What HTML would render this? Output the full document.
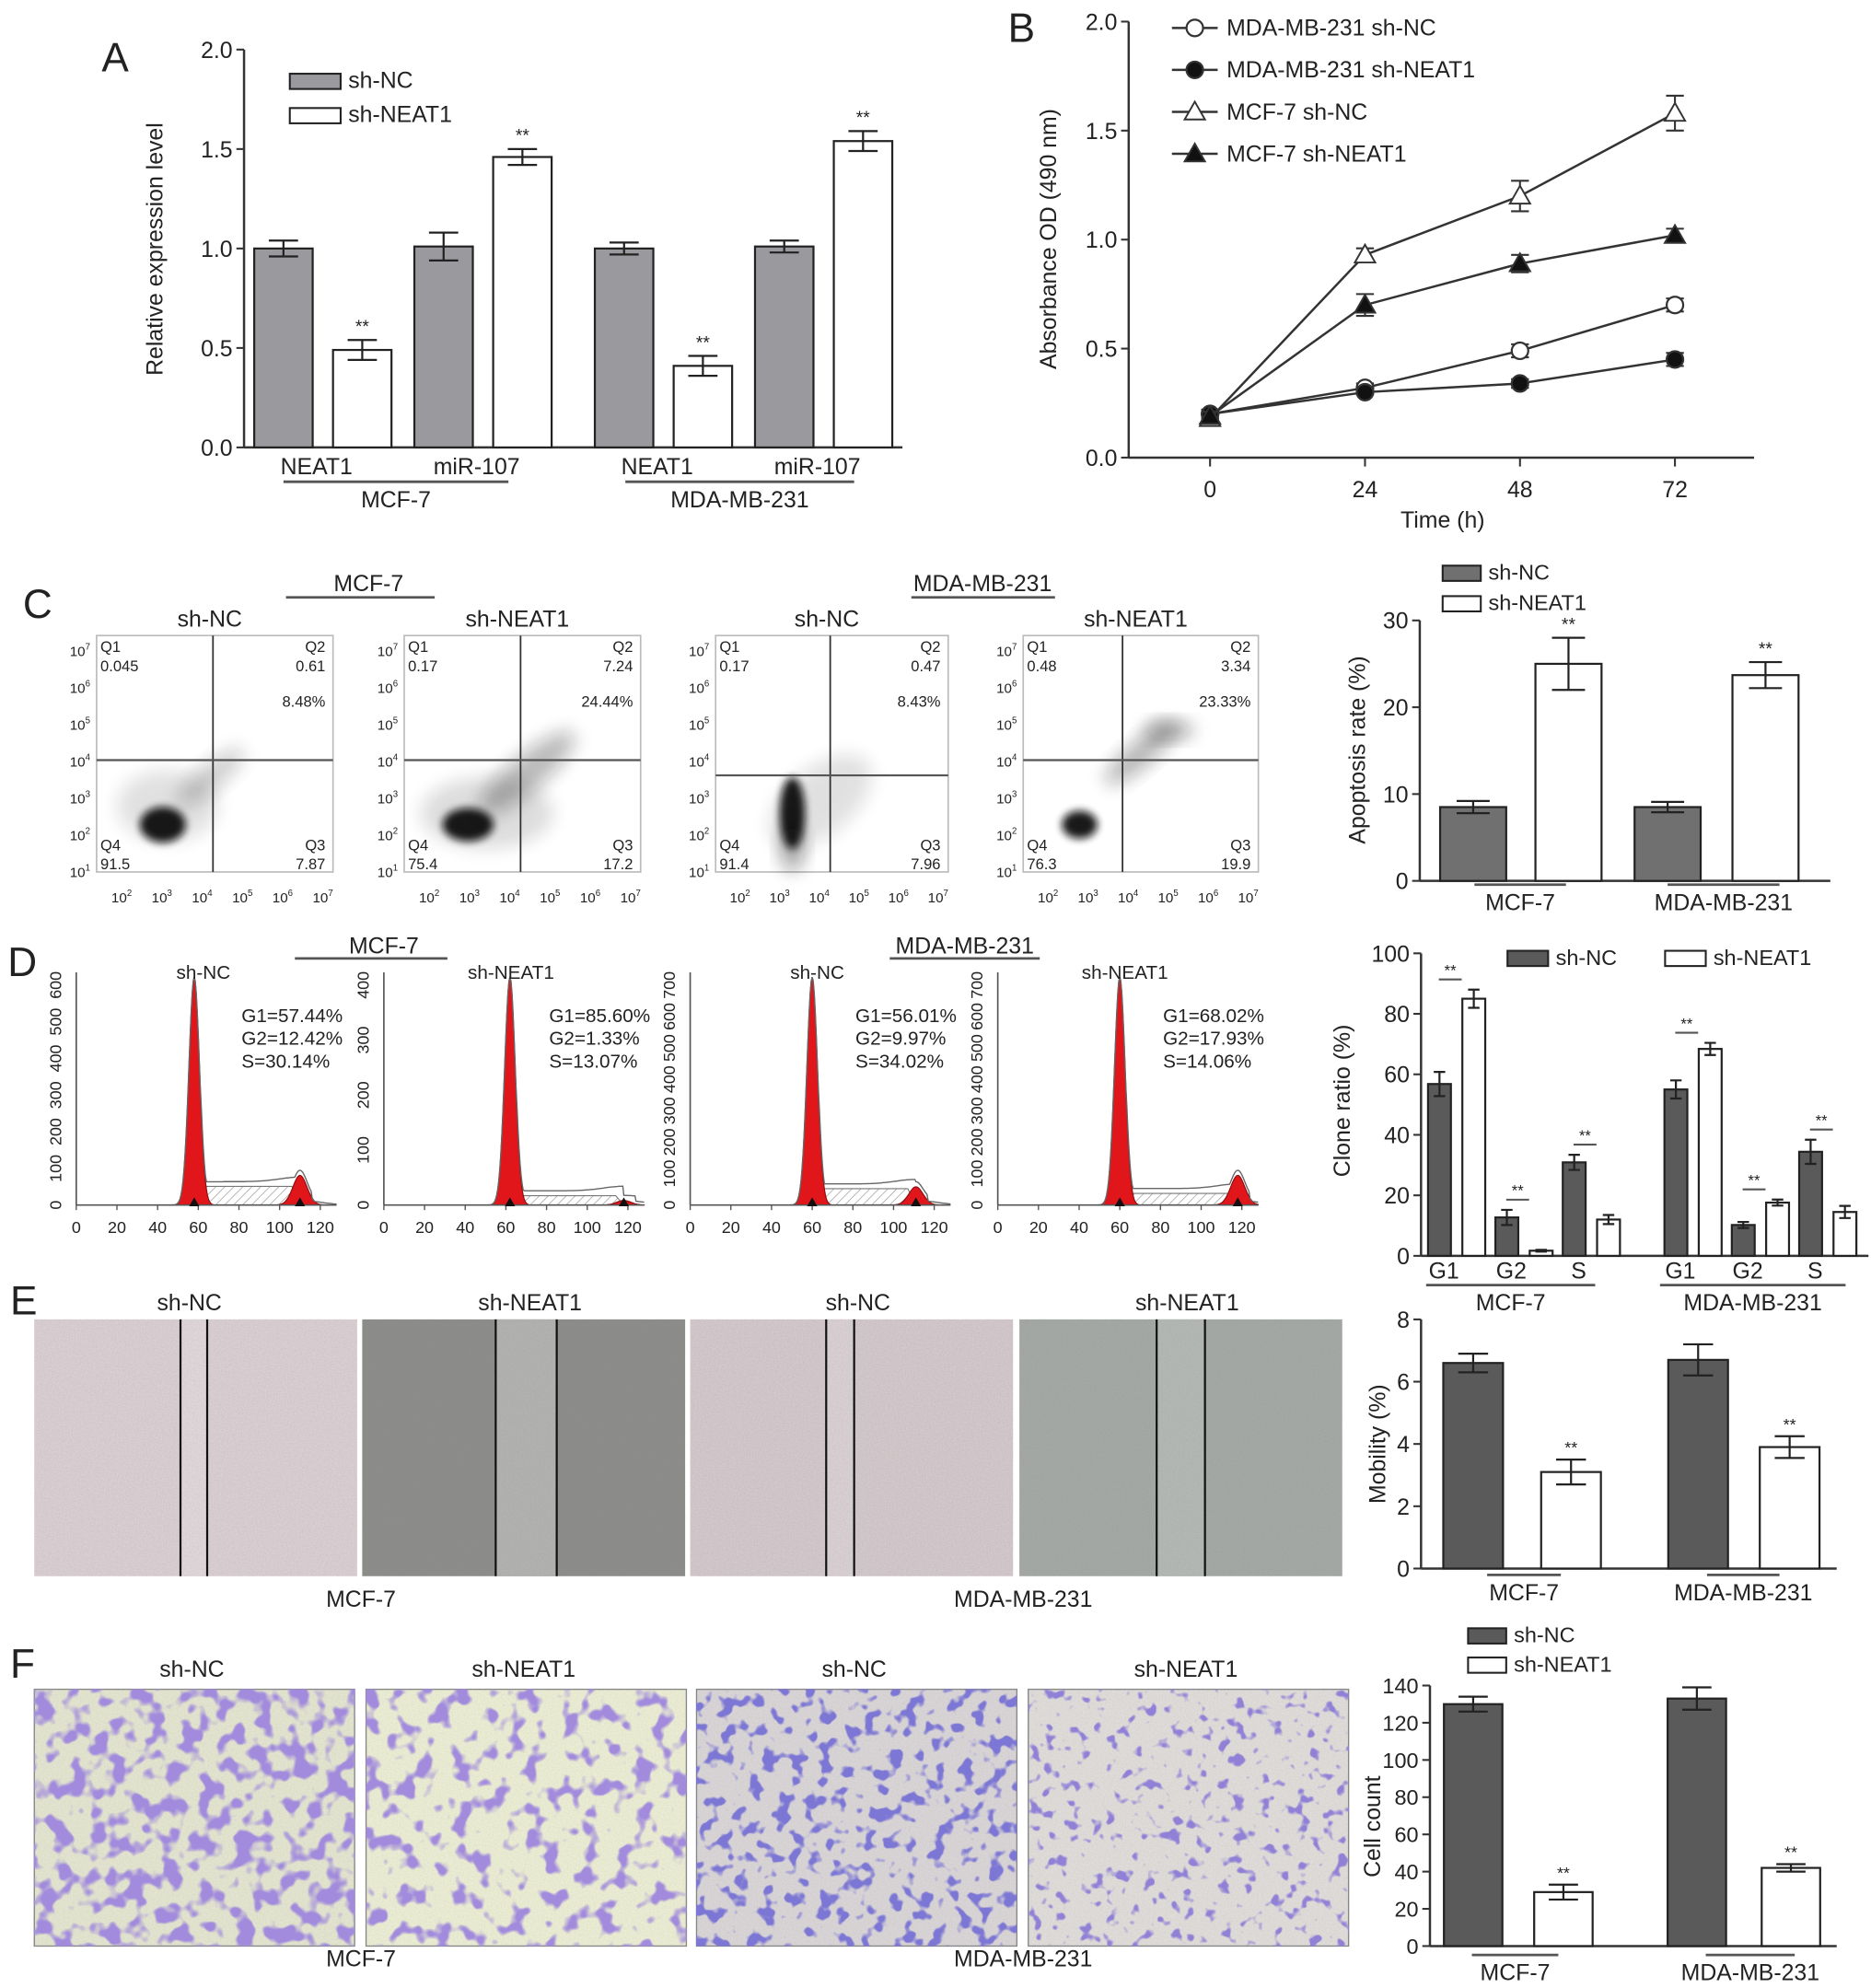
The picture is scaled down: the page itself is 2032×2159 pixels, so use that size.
<!DOCTYPE html>
<html><head><meta charset="utf-8">
<style>
html,body{margin:0;padding:0;background:#fff;}
svg{display:block;}
text{font-family:"Liberation Sans",Arial,sans-serif;fill:#222;}
</style></head>
<body>
<svg id="fig" xmlns="http://www.w3.org/2000/svg" width="2032" height="2159" viewBox="0 0 1472 1564" preserveAspectRatio="none">
<defs>
<filter id="blur3" x="-50%" y="-50%" width="200%" height="200%"><feGaussianBlur stdDeviation="3"/></filter>
<filter id="blur6" x="-50%" y="-50%" width="200%" height="200%"><feGaussianBlur stdDeviation="7"/></filter>
<filter id="noise" x="0" y="0" width="100%" height="100%"><feTurbulence type="fractalNoise" baseFrequency="0.9" numOctaves="1" seed="2"/><feColorMatrix type="matrix" values="0 0 0 0 0.2  0 0 0 0 0.2  0 0 0 0 0.2  0 0 0 0.5 -0.1"/></filter>
<filter id="blobs1" x="0" y="0" width="100%" height="100%"><feTurbulence type="fractalNoise" baseFrequency="0.07" numOctaves="2" seed="4"/><feColorMatrix type="matrix" values="0 0 0 0 0.36  0 0 0 0 0.26  0 0 0 0 0.72  8 0 0 0 -3.9"/></filter>
<filter id="blobs2" x="0" y="0" width="100%" height="100%"><feTurbulence type="fractalNoise" baseFrequency="0.07" numOctaves="2" seed="9"/><feColorMatrix type="matrix" values="0 0 0 0 0.36  0 0 0 0 0.26  0 0 0 0 0.72  8 0 0 0 -4.3"/></filter>
<filter id="blobs3" x="0" y="0" width="100%" height="100%"><feTurbulence type="fractalNoise" baseFrequency="0.09" numOctaves="2" seed="12"/><feColorMatrix type="matrix" values="0 0 0 0 0.2  0 0 0 0 0.18  0 0 0 0 0.66  9 0 0 0 -4.9"/></filter>
<filter id="blobs4" x="0" y="0" width="100%" height="100%"><feTurbulence type="fractalNoise" baseFrequency="0.1" numOctaves="2" seed="21"/><feColorMatrix type="matrix" values="0 0 0 0 0.28  0 0 0 0 0.22  0 0 0 0 0.68  9 0 0 0 -5.3"/></filter>
<pattern id="hatch" width="5" height="5" patternUnits="userSpaceOnUse" patternTransform="rotate(45)"><rect width="5" height="5" fill="#fff"/><line x1="0" y1="0" x2="0" y2="5" stroke="#999" stroke-width="1"/></pattern>
</defs>

<text x="80" y="56" font-size="32">A</text>
<text x="793" y="33" font-size="32">B</text>
<text x="18" y="486" font-size="32">C</text>
<text x="6" y="768" font-size="32">D</text>
<text x="8" y="1034" font-size="32">E</text>
<text x="8" y="1320" font-size="32">F</text>

<g id="gA"></g>
<g id="gB"></g>
<g id="gC"></g>
<g id="gCb"></g>
<g id="gD"></g>
<g id="gDb"></g>
<g id="gE"></g>
<g id="gEb"></g>
<g id="gF"></g>
<g id="gFb"></g>
</svg>

<script>
// ---------- DATA ----------
const aCats = ['NEAT1','miR-107','NEAT1','miR-107'];
const aNC = [1.00, 1.01, 1.00, 1.01];
const aNCerr = [0.04, 0.07, 0.03, 0.03];
const aKD = [0.49, 1.46, 0.41, 1.54];
const aKDerr = [0.05, 0.04, 0.05, 0.05];
const aTicks = [0.0, 0.5, 1.0, 1.5, 2.0];

const bTimes = [0, 24, 48, 72];
const bTicks = [0.0, 0.5, 1.0, 1.5, 2.0];
const bMdaNC = [0.20, 0.32, 0.49, 0.70];
const bMdaNCerr = [0.02, 0.02, 0.03, 0.03];
const bMdaKD = [0.20, 0.30, 0.34, 0.45];
const bMdaKDerr = [0.02, 0.01, 0.02, 0.03];
const bMcfNC = [0.18, 0.93, 1.20, 1.58];
const bMcfNCerr = [0.03, 0.03, 0.07, 0.08];
const bMcfKD = [0.19, 0.70, 0.89, 1.02];
const bMcfKDerr = [0.02, 0.05, 0.04, 0.03];

const cNC = [8.5, 8.5];
const cNCerr = [0.7, 0.6];
const cKD = [25.0, 23.7];
const cKDerr = [3.0, 1.5];
const cTicks = [0, 10, 20, 30];

const dPhases = ['G1','G2','S','G1','G2','S'];
const dNC = [56.8, 12.7, 30.9, 55.0, 10.2, 34.4];
const dNCerr = [4.0, 2.5, 2.5, 3.0, 1.0, 4.0];
const dKD = [85.0, 1.7, 12.0, 68.4, 17.6, 14.5];
const dKDerr = [3.0, 0.3, 1.5, 2.0, 1.0, 2.0];
const dTicks = [0, 20, 40, 60, 80, 100];

const eNC = [6.6, 6.7];
const eNCerr = [0.3, 0.5];
const eKD = [3.1, 3.9];
const eKDerr = [0.4, 0.35];
const eTicks = [0, 2, 4, 6, 8];

const fNC = [130, 133];
const fNCerr = [4, 6];
const fKD = [29, 42];
const fKDerr = [4, 2];
const fTicks = [0, 20, 40, 60, 80, 100, 120, 140];

const flowTitles = ['sh-NC','sh-NEAT1','sh-NC','sh-NEAT1'];
const flowQ1 = ['0.045','0.17','0.17','0.48'];
const flowQ2 = ['0.61','7.24','0.47','3.34'];
const flowQ3 = ['7.87','17.2','7.96','19.9'];
const flowQ4 = ['91.5','75.4','91.4','76.3'];
const flowPct = ['8.48%','24.44%','8.43%','23.33%'];

const histTitles = ['sh-NC','sh-NEAT1','sh-NC','sh-NEAT1'];
const histG1 = ['G1=57.44%','G1=85.60%','G1=56.01%','G1=68.02%'];
const histG2 = ['G2=12.42%','G2=1.33%','G2=9.97%','G2=17.93%'];
const histS = ['S=30.14%','S=13.07%','S=34.02%','S=14.06%'];
const histYmax = [600, 400, 700, 700];
const histG1pos = [58, 62, 60, 60];
const histG2pos = [110, 118, 111, 118];
const histG2h = [0.13, 0.02, 0.08, 0.13];
const histSh = [0.08, 0.04, 0.07, 0.05];

// ---------- HELPERS ----------
const NS = 'http://www.w3.org/2000/svg';
function mk(tag, attrs, parent) {
  const e = document.createElementNS(NS, tag);
  for (const k in attrs) e.setAttribute(k, attrs[k]);
  parent.appendChild(e);
  return e;
}
function txt(parent, x, y, s, size, anchor, extra) {
  const t = mk('text', Object.assign({x: x, y: y, 'font-size': size, 'text-anchor': anchor || 'middle'}, extra || {}), parent);
  t.textContent = s;
  return t;
}
function line(parent, x1, y1, x2, y2, w, col) {
  return mk('line', {x1: x1, y1: y1, x2: x2, y2: y2, stroke: col || '#333', 'stroke-width': w || 1.5}, parent);
}
function yAxis(parent, x, yfn, ticks, fmt, size, top) {
  const ax = line(parent, x, yfn(ticks[0]), x, top !== undefined ? top : yfn(ticks[ticks.length - 1]), 1.8);
  
  
  ticks.forEach(function (t) {
    const tk = line(parent, x - 6, yfn(t), x, yfn(t), 1.5);
    
    
    const lb = txt(parent, x - 9, yfn(t) + size * 0.36, fmt(t), size, 'end');
    
    
  });
}
function bars(parent, xs, w, vals, errs, yfn, fill, name) {
  vals.forEach(function (v, i) {
    const r = mk('rect', {x: xs[i] - w / 2, y: yfn(v), width: w, height: yfn(0) - yfn(v), fill: fill, stroke: '#222', 'stroke-width': 1.6}, parent);
    
    
    const e = errs[i], cap = w * 0.25;
    const eb = mk('path', {d: 'M' + xs[i] + ',' + yfn(v + e) + 'V' + yfn(v - e) + 'M' + (xs[i] - cap) + ',' + yfn(v + e) + 'H' + (xs[i] + cap) + 'M' + (xs[i] - cap) + ',' + yfn(v - e) + 'H' + (xs[i] + cap), stroke: '#222', 'stroke-width': 1.6, fill: 'none'}, parent);
    
    
  });
}
function stars(parent, x, y, size) {
  const s = txt(parent, x, y, '**', size || 14);
  
  
}
function legendBox(parent, x, y, w, h, fill, label, size) {
  const r = mk('rect', {x: x, y: y, width: w, height: h, fill: fill, stroke: '#222', 'stroke-width': 1.5}, parent);
  
  
  const t = txt(parent, x + w + 6, y + h - 1, label, size, 'start');
  
  
}
function groupLabel(parent, x1, x2, yl, label, size) {
  const l = line(parent, x1, yl, x2, yl, 2, '#555');
  
  
  const t = txt(parent, (x1 + x2) / 2, yl + size + 2, label, size);
  
  
}
function rotLabel(parent, x, y, s, size) {
  const t = txt(parent, 0, 0, s, size, 'middle', {transform: 'translate(' + x + ',' + y + ') rotate(-90)'});
  
  
}

// ---------- PANEL A ----------
(function () {
  const g = document.getElementById('gA');
  const y = function (v) { return 352 - v * 156.5; };
  yAxis(g, 192, y, aTicks, function (t) { return t.toFixed(1); }, 18);
  const xa = line(g, 192, 352, 710, 352, 1.8);
  
  
  const centers = aCats.map(function (c, i) { return 254 + i * 126 + (i >= 2 ? 16 : 0); });
  const xNC = centers.map(function (c) { return c - 31; });
  const xKD = centers.map(function (c) { return c + 31; });
  bars(g, xNC, 46, aNC, aNCerr, y, '#9a9a9e', 'a-sh-nc');
  bars(g, xKD, 46, aKD, aKDerr, y, '#fff', 'a-sh-neat1');
  aKD.forEach(function (v, i) { stars(g, xKD[i], y(v + aKDerr[i]) - 6, 14); });
  aCats.forEach(function (c, i) {
    const t = txt(g, centers[i] - 5, 373, c, 18);
    
    
  });
  groupLabel(g, 223, 400, 379, 'MCF-7', 18);
  groupLabel(g, 492, 672, 379, 'MDA-MB-231', 18);
  legendBox(g, 228, 58, 40, 12, '#9a9a9e', 'sh-NC', 18);
  legendBox(g, 228, 85, 40, 12, '#fff', 'sh-NEAT1', 18);
  rotLabel(g, 128, 196, 'Relative expression level', 18);
})();

// ---------- PANEL B ----------
(function () {
  const g = document.getElementById('gB');
  const y = function (v) { return 360 - v * 171.5; };
  const x = function (t) { return 952 + t * 5.08; };
  yAxis(g, 888, y, bTicks, function (t) { return t.toFixed(1); }, 18);
  const xa = line(g, 888, 360, 1380, 360, 1.8);
  
  
  bTimes.forEach(function (t) {
    const tk = line(g, x(t), 360, x(t), 367, 1.5);
    
    
    const lb = txt(g, x(t), 391, String(t), 18);
    
    
  });
  const xt = txt(g, 1135, 415, 'Time (h)', 18);
  
  
  rotLabel(g, 831, 188, 'Absorbance OD (490 nm)', 18);

  function marker(parent, cx, cy, kind) {
    let m;
    if (kind === 'oc' || kind === 'fc') {
      m = mk('circle', {cx: cx, cy: cy, r: 6.5, fill: kind === 'fc' ? '#111' : '#fff', stroke: '#333', 'stroke-width': 1.6}, parent);
    } else {
      m = mk('path', {d: 'M' + cx + ',' + (cy - 8) + 'L' + (cx + 8) + ',' + (cy + 6) + 'L' + (cx - 8) + ',' + (cy + 6) + 'Z', fill: kind === 'ft' ? '#111' : '#fff', stroke: '#333', 'stroke-width': 1.4}, parent);
    }
    return m;
  }
  const series = [
    {v: bMdaNC, e: bMdaNCerr, k: 'oc', n: 'mda-sh-nc', l: 'MDA-MB-231 sh-NC'},
    {v: bMdaKD, e: bMdaKDerr, k: 'fc', n: 'mda-sh-neat1', l: 'MDA-MB-231 sh-NEAT1'},
    {v: bMcfNC, e: bMcfNCerr, k: 'ot', n: 'mcf-sh-nc', l: 'MCF-7 sh-NC'},
    {v: bMcfKD, e: bMcfKDerr, k: 'ft', n: 'mcf-sh-neat1', l: 'MCF-7 sh-NEAT1'}
  ];
  series.forEach(function (s, si) {
    const p = mk('polyline', {points: s.v.map(function (v, i) { return x(bTimes[i]) + ',' + y(v); }).join(' '), fill: 'none', stroke: '#333', 'stroke-width': 1.8}, g);
    
    
    s.v.forEach(function (v, i) {
      const cx = x(bTimes[i]);
      const eb = mk('path', {d: 'M' + cx + ',' + y(v + s.e[i]) + 'V' + y(v - s.e[i]) + 'M' + (cx - 7) + ',' + y(v + s.e[i]) + 'H' + (cx + 7) + 'M' + (cx - 7) + ',' + y(v - s.e[i]) + 'H' + (cx + 7), stroke: '#333', 'stroke-width': 1.5, fill: 'none'}, g);
      
      
      const m = marker(g, cx, y(v), s.k);
      
      
    });
    const ly = 22 + si * 33;
    const ll = line(g, 922, ly, 958, ly, 1.8);
    
    
    const lm = marker(g, 940, ly, s.k);
    
    
    const lt = txt(g, 965, ly + 6, s.l, 18, 'start');
    
    
  });
})();

// ---------- PANEL C (flow plots) ----------
(function () {
  const g = document.getElementById('gC');
  const frames = [[76, 262], [318, 504], [563, 746], [805, 990]];
  const hLines = [598, 598, 610, 598];
  const vFrac = [0.46, 0.46, 0.46, 0.39];
  const top = 500, bot = 686;
  groupLabel(g, 225, 342, 470, '', 18);
  const m1 = txt(g, 290, 465, 'MCF-7', 18);
  
  
  groupLabel(g, 717, 830, 470, '', 18);
  const m2 = txt(g, 773, 465, 'MDA-MB-231', 18);
  
  
  const blobCfg = [
    [[0.28, 0.8, 18, 14, 0.95], [0.48, 0.6, 34, 10, 0.2], [0.3, 0.72, 40, 28, 0.12]],
    [[0.27, 0.8, 20, 13, 0.95], [0.52, 0.58, 48, 14, 0.28], [0.35, 0.75, 52, 28, 0.14]],
    [[0.33, 0.75, 10, 28, 0.95], [0.45, 0.7, 48, 26, 0.12], [0.33, 0.9, 9, 18, 0.4]],
    [[0.24, 0.8, 14, 11, 0.95], [0.5, 0.5, 36, 10, 0.3], [0.62, 0.4, 20, 7, 0.35]]
  ];
  const sup = ['1', '2', '3', '4', '5', '6', '7'];
  frames.forEach(function (f, i) {
    const x0 = f[0], x1 = f[1], w = x1 - x0;
    const fr = mk('rect', {x: x0, y: top, width: w, height: bot - top, fill: '#fff', stroke: '#bbb', 'stroke-width': 1.2}, g);
    
    
    blobCfg[i].forEach(function (b, bi) {
      const el = mk('ellipse', {cx: x0 + b[0] * w, cy: top + b[1] * (bot - top), rx: b[2], ry: b[3], fill: '#111', opacity: b[4], filter: bi === 0 ? 'url(#blur3)' : 'url(#blur6)', transform: bi === 1 ? 'rotate(-40 ' + (x0 + b[0] * w) + ' ' + (top + b[1] * (bot - top)) + ')' : ''}, g);
      
      
    });
    const vx = x0 + vFrac[i] * w + 6;
    const vl = line(g, vx, top, vx, bot, 1.3);
    
    
    const hl = line(g, x0, hLines[i], x1, hLines[i], 1.6, '#555');
    
    
    const tt = txt(g, (x0 + x1) / 2 - 4, 493, flowTitles[i], 18);
    
    
    [[x0 + 3, 513, 'Q1', 'start'], [x0 + 3, 528, flowQ1[i], 'start'], [x1 - 6, 513, 'Q2', 'end'], [x1 - 6, 528, flowQ2[i], 'end'], [x1 - 6, 556, flowPct[i], 'end'], [x0 + 3, 669, 'Q4', 'start'], [x0 + 3, 684, flowQ4[i], 'start'], [x1 - 6, 669, 'Q3', 'end'], [x1 - 6, 684, flowQ3[i], 'end']].forEach(function (q) {
      const t = txt(g, q[0], q[1], q[2], 12, q[3]);
      
      
    });
    for (let k = 0; k < 7; k++) {
      const yy = bot - k * (bot - top - 12) / 6;
      const yl = txt(g, x0 - 5, yy + 4, '10', 11, 'end');
      const ts = mk('tspan', {dy: -5, 'font-size': 7}, yl);
      ts.textContent = sup[k];
      
      
      if (k >= 1) {
        const xl = txt(g, x0 - 12 + k * (w + 4) / 6, 710, '10', 11);
        const ts2 = mk('tspan', {dy: -5, 'font-size': 7}, xl);
        ts2.textContent = sup[k];
        
        
      }
    }
  });
})();

// ---------- PANEL C (bar chart) ----------
(function () {
  const g = document.getElementById('gCb');
  const y = function (v) { return 693 - v * 6.83; };
  yAxis(g, 1117, y, cTicks, String, 18);
  const xa = line(g, 1117, 693, 1440, 693, 1.8);
  
  
  const xNC = [1159, 1312], xKD = [1234, 1389];
  bars(g, xNC, 52, cNC, cNCerr, y, '#707070', 'c-sh-nc');
  bars(g, xKD, 52, cKD, cKDerr, y, '#fff', 'c-sh-neat1');
  cKD.forEach(function (v, i) { stars(g, xKD[i], y(v + cKDerr[i]) - 6, 14); });
  groupLabel(g, 1160, 1232, 696, 'MCF-7', 18);
  groupLabel(g, 1312, 1400, 696, 'MDA-MB-231', 18);
  legendBox(g, 1135, 445, 30, 12, '#707070', 'sh-NC', 17);
  legendBox(g, 1135, 469, 30, 12, '#fff', 'sh-NEAT1', 17);
  rotLabel(g, 1074, 590, 'Apoptosis rate (%)', 18);
})();

// ---------- PANEL D (histograms) ----------
(function () {
  const g = document.getElementById('gD');
  const axesX = [60, 302, 543, 785];
  const base = 948, top = 765;
  groupLabel(g, 232, 352, 754, '', 18);
  const h1 = txt(g, 302, 750, 'MCF-7', 18);
  
  
  groupLabel(g, 700, 818, 754, '', 18);
  const h2 = txt(g, 759, 750, 'MDA-MB-231', 18);
  
  
  axesX.forEach(function (xa, i) {
    const sx = function (v) { return xa + v * 1.6; };
    const hgt = base - top;
    function gauss(v, m, s) { return Math.exp(-0.5 * Math.pow((v - m) / s, 2)); }
    let red = '', out = '';
    const m1 = histG1pos[i], m2 = histG2pos[i];
    for (let v = 40; v <= 128; v += 0.5) {
      const r = gauss(v, m1, 2.6) + histG2h[i] * gauss(v, m2, 3.5);
      const s = (v > m1 && v < m2) ? histSh[i] : 0;
      const o = Math.max(r, s + 0.02 * gauss(v, m2, 10));
      red += (v === 40 ? 'M' : 'L') + sx(v).toFixed(1) + ',' + (base - r * hgt * 0.98).toFixed(1);
      out += (v === 40 ? 'M' : 'L') + sx(v).toFixed(1) + ',' + (base - o * hgt * 0.98 - (v > m1 + 3 && v < m2 + 6 ? 4 : 0)).toFixed(1);
    }
    const hp = mk('path', {d: 'M' + sx(m1) + ',' + base + 'L' + sx(m1 + 4) + ',' + (base - histSh[i] * hgt) + 'L' + sx(m2 - 4) + ',' + (base - histSh[i] * hgt) + 'L' + sx(m2) + ',' + base + 'Z', fill: 'url(#hatch)', stroke: '#777', 'stroke-width': 0.8}, g);
    
    
    const rp = mk('path', {d: red + 'L' + sx(128) + ',' + base + 'L' + sx(40) + ',' + base + 'Z', fill: '#e0161b', stroke: '#8a0b0e', 'stroke-width': 0.8}, g);
    
    
    const op = mk('path', {d: out, fill: 'none', stroke: '#666', 'stroke-width': 1}, g);
    
    
    const ya = line(g, xa, base, xa, top, 1.2, '#555');
    
    
    const xl = line(g, xa, base, sx(128), base, 1.2, '#555');
    
    
    for (let t = 0; t <= 120; t += 20) {
      const tk = line(g, sx(t), base, sx(t), base + 4, 1, '#555');
      
      
      const lb = txt(g, sx(t), base + 22, String(t), 13);
      
      
    }
    const ymax = histYmax[i];
    for (let t = 0; t <= ymax; t += 100) {
      const yy = base - t / ymax * (hgt - 10);
      const lb = txt(g, 0, 0, String(t), 13, 'middle', {transform: 'translate(' + (xa - 12) + ',' + yy + ') rotate(-90)'});
      
      
    }
    const tt = txt(g, xa + 100, 770, histTitles[i], 15);
    
    
    [histG1[i], histG2[i], histS[i]].forEach(function (s, k) {
      const t = txt(g, xa + 130, 804 + k * 18, s, 15, 'start');
      
      
    });
    [m1, m2].forEach(function (m) {
      const tri = mk('path', {d: 'M' + sx(m) + ',' + (base - 6) + 'l4,7h-8z', fill: '#111'}, g);
      
      
    });
  });
})();

// ---------- PANEL D (bar chart) ----------
(function () {
  const g = document.getElementById('gDb');
  const y = function (v) { return 988 - v * 2.38; };
  yAxis(g, 1118, y, dTicks, String, 18);
  const xa = line(g, 1118, 988, 1470, 988, 1.8);
  
  
  const cx = dPhases.map(function (p, i) { return 1146 + (i % 3) * 53 + (i >= 3 ? 186 : 0); });
  const xNC = cx.map(function (c) { return c - 13.5; });
  const xKD = cx.map(function (c) { return c + 13.5; });
  bars(g, xNC, 18, dNC, dNCerr, y, '#5a5a5a', 'd-sh-nc');
  bars(g, xKD, 18, dKD, dKDerr, y, '#fff', 'd-sh-neat1');
  dPhases.forEach(function (p, i) {
    const top = Math.max(dNC[i] + dNCerr[i], dKD[i] + dKDerr[i]);
    const sl = line(g, cx[i] - 14, y(top) - 8, cx[i] + 4, y(top) - 8, 1.5, '#555');
    
    
    stars(g, cx[i] - 5, y(top) - 11, 12);
    const lb = txt(g, cx[i] - 10, 1006, p, 18);
    
    
  });
  groupLabel(g, 1122, 1255, 1011, 'MCF-7', 18);
  groupLabel(g, 1306, 1452, 1011, 'MDA-MB-231', 18);
  legendBox(g, 1186, 748, 32, 12, '#5a5a5a', 'sh-NC', 17);
  legendBox(g, 1310, 748, 32, 12, '#fff', 'sh-NEAT1', 17);
  rotLabel(g, 1062, 866, 'Clone ratio (%)', 18);
})();

// ---------- PANEL E (images) ----------
(function () {
  const g = document.getElementById('gE');
  const xs = [27, 285, 543, 802], w = 254;
  const cols = ['#ddd2d6', '#8d8d8b', '#d6cbce', '#a6aaa7'];
  const gapCols = ['#e3dadd', '#b4b4b2', '#ddd3d6', '#b6bab7'];
  const gaps = [[142, 163], [390, 438], [650, 672], [910, 948]];
  const titles = ['sh-NC', 'sh-NEAT1', 'sh-NC', 'sh-NEAT1'];
  xs.forEach(function (x, i) {
    const r = mk('rect', {x: x, y: 1038, width: w, height: 202, fill: cols[i]}, g);
    
    
    const gp = mk('rect', {x: gaps[i][0], y: 1038, width: gaps[i][1] - gaps[i][0], height: 202, fill: gapCols[i]}, g);
    
    
    const n = mk('rect', {x: x, y: 1038, width: w, height: 202, fill: '#fff', filter: 'url(#noise)', opacity: 0.5}, g);
    
    
    gaps[i].forEach(function (gx) {
      const l = line(g, gx, 1038, gx, 1240, 1.6, '#111');
      
      
    });
    const t = txt(g, x + w / 2 + (i === 0 ? -5 : 5), 1031, titles[i], 18);
    
    
  });
  const l1 = txt(g, 284, 1264, 'MCF-7', 18);
  
  
  const l2 = txt(g, 805, 1264, 'MDA-MB-231', 18);
  
  
})();

// ---------- PANEL E (bar chart) ----------
(function () {
  const g = document.getElementById('gEb');
  const y = function (v) { return 1234 - v * 24.5; };
  yAxis(g, 1118, y, eTicks, String, 18);
  const xa = line(g, 1118, 1234, 1445, 1234, 1.8);
  
  
  const xNC = [1159, 1336], xKD = [1236, 1408];
  bars(g, xNC, 47, eNC, eNCerr, y, '#5a5a5a', 'e-sh-nc');
  bars(g, xKD, 47, eKD, eKDerr, y, '#fff', 'e-sh-neat1');
  eKD.forEach(function (v, i) { stars(g, xKD[i], y(v + eKDerr[i]) - 5, 13); });
  groupLabel(g, 1170, 1228, 1239, 'MCF-7', 18);
  groupLabel(g, 1343, 1400, 1239, 'MDA-MB-231', 18);
  rotLabel(g, 1090, 1136, 'Mobility (%)', 18);
})();

// ---------- PANEL F (images) ----------
(function () {
  const g = document.getElementById('gF');
  const xs = [27, 288, 548, 809], w = 252;
  const bg = ['#e6e8d2', '#eef0d6', '#dcd8da', '#e2dfdc'];
  const titles = ['sh-NC', 'sh-NEAT1', 'sh-NC', 'sh-NEAT1'];
  xs.forEach(function (x, i) {
    const r = mk('rect', {x: x, y: 1329, width: w, height: 202, fill: bg[i], stroke: '#888', 'stroke-width': 1}, g);
    
    
    const n = mk('rect', {x: x, y: 1329, width: w, height: 202, fill: '#fff', filter: 'url(#noise)', opacity: 0.4}, g);
    
    
    const b = mk('rect', {x: x, y: 1329, width: w, height: 202, fill: '#fff', filter: 'url(#blobs' + (i + 1) + ')'}, g);
    
    
    const t = txt(g, x + w / 2 - 2, 1319, titles[i], 18);
    
    
  });
  const l1 = txt(g, 284, 1547, 'MCF-7', 18);
  
  
  const l2 = txt(g, 805, 1547, 'MDA-MB-231', 18);
  
  
})();

// ---------- PANEL F (bar chart) ----------
(function () {
  const g = document.getElementById('gFb');
  const y = function (v) { return 1531 - v * 1.464; };
  yAxis(g, 1125, y, fTicks, String, 17);
  const xa = line(g, 1125, 1531, 1445, 1531, 1.8);
  
  
  const xNC = [1159, 1335], xKD = [1230, 1409];
  bars(g, xNC, 46, fNC, fNCerr, y, '#5a5a5a', 'f-sh-nc');
  bars(g, xKD, 46, fKD, fKDerr, y, '#fff', 'f-sh-neat1');
  fKD.forEach(function (v, i) { stars(g, xKD[i], y(v + fKDerr[i]) - 5, 13); });
  groupLabel(g, 1158, 1226, 1538, 'MCF-7', 18);
  groupLabel(g, 1342, 1412, 1538, 'MDA-MB-231', 18);
  legendBox(g, 1155, 1281, 30, 12, '#5a5a5a', 'sh-NC', 17);
  legendBox(g, 1155, 1304, 30, 12, '#fff', 'sh-NEAT1', 17);
  rotLabel(g, 1086, 1437, 'Cell count', 18);
})();
</script>
</body></html>
